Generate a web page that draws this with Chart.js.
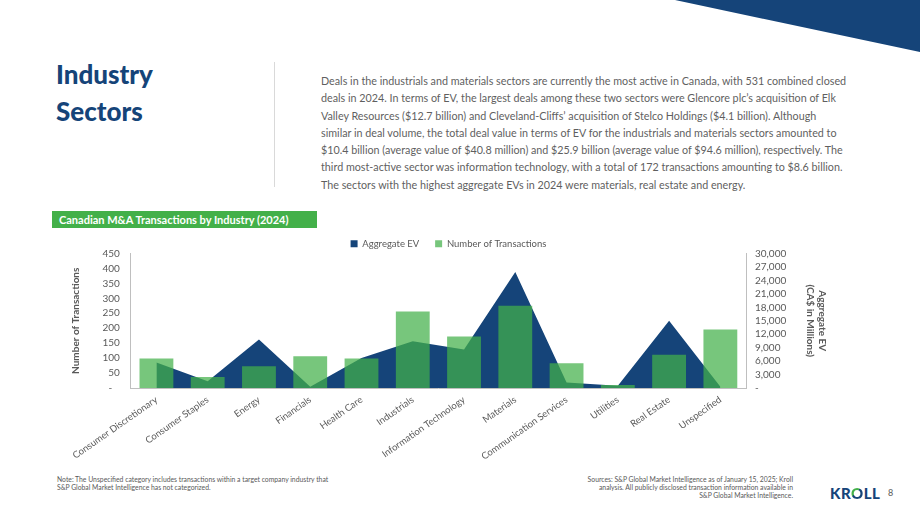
<!DOCTYPE html>
<html>
<head>
<meta charset="utf-8">
<script src="https://cdn.jsdelivr.net/npm/chart.js@4"></script>
<style>
  body { margin: 0; width: 920px; height: 517px; background: #fff; font-family: 'Lato', sans-serif; position: relative; overflow: hidden; }
  .corner { position: absolute; left: 675px; top: 0; width: 245px; height: 52px; background: #154479; clip-path: polygon(0 0, 100% 0, 100% 100%); }
  h1 { position: absolute; left: 56px; top: 56px; margin: 0; font-size: 26px; line-height: 37px; font-weight: 900; color: #154479; }
  .divider { position: absolute; left: 274px; top: 62px; width: 1px; height: 125px; background: #d9d9d9; }
  .intro { position: absolute; left: 321px; top: 72px; font-size: 10.75px; line-height: 17.3px; color: #5f5f5f; white-space: nowrap; }
  .boxtitle { position: absolute; left: 52px; top: 211px; width: 258px; height: 17px; padding-left: 7px; background: #43B049; color: #fff; font-size: 11px; font-weight: bold; line-height: 17px; }
  .chart { position: absolute; left: 65px; top: 235px; width: 767px; height: 237px; }
  .note { position: absolute; left: 57px; top: 476px; font-size: 6.8px; line-height: 7.8px; color: #595959; white-space: nowrap; }
  .sources { position: absolute; right: 127px; top: 476px; font-size: 6.8px; line-height: 7.8px; color: #595959; text-align: right; white-space: nowrap; }
  .logo { position: absolute; left: 830px; top: 484px; font-size: 15px; font-weight: 900; letter-spacing: 0.5px; color: #154479; }
  .logo span { background: linear-gradient(135deg, #43B049 45%, #154479 45%); -webkit-background-clip: text; background-clip: text; color: transparent; }
  .page { position: absolute; left: 888px; top: 487px; font-size: 9px; color: #595959; }
</style>
</head>
<body>
<div class="corner"></div>
<h1>Industry<br>Sectors</h1>
<div class="divider"></div>
<div class="intro">
Deals in the industrials and materials sectors are currently the most active in Canada, with 531 combined closed<br>
deals in 2024. In terms of EV, the largest deals among these two sectors were Glencore plc’s acquisition of Elk<br>
Valley Resources ($12.7 billion) and Cleveland-Cliffs’ acquisition of Stelco Holdings ($4.1 billion). Although<br>
similar in deal volume, the total deal value in terms of EV for the industrials and materials sectors amounted to<br>
$10.4 billion (average value of $40.8 million) and $25.9 billion (average value of $94.6 million), respectively. The<br>
third most-active sector was information technology, with a total of 172 transactions amounting to $8.6 billion.<br>
The sectors with the highest aggregate EVs in 2024 were materials, real estate and energy.
</div>
<div class="boxtitle">Canadian M&amp;A Transactions by Industry (2024)</div>
<div class="chart"><canvas id="industryChart"></canvas></div>
<div class="note">Note: The Unspecified category includes transactions within a target company industry that<br>S&amp;P Global Market Intelligence has not categorized.</div>
<div class="sources">Sources: S&amp;P Global Market Intelligence as of January 15, 2025; Kroll<br>analysis. All publicly disclosed transaction information available in<br>S&amp;P Global Market Intelligence.</div>
<div class="logo">KR<span>O</span>LL</div>
<div class="page">8</div>

<script>
// Chart data
const categories = ['Consumer Discretionary', 'Consumer Staples', 'Energy', 'Financials', 'Health Care', 'Industrials',
    'Information Technology', 'Materials', 'Communication Services', 'Utilities', 'Real Estate', 'Unspecified'];
const transactions = [99, 37, 73, 106, 99, 256, 172, 275, 83, 10, 111, 196];
const aggregateEV = [5700, 1500, 10800, 300, 6700, 10400, 8600, 25900, 1200, 500, 15000, 300];
const countTicks = [0, 450, 50];   // min, max, step
const evTicks = [0, 30000, 3000];

const navy = '#154479';
const green = 'rgba(67, 176, 73, 0.72)';
const grey = '#595959';

Chart.defaults.font.family = 'Lato';
Chart.defaults.color = grey;

// legend is a bit too tall by default, trim it so the plot starts right under it
const legendTrim = {
    id: 'legendTrim',
    beforeInit(chart) {
        const legend = chart.legend;
        if (!legend) return;
        const fit = legend.fit;
        legend.fit = function () {
            fit.call(this);
            this.height -= 5;
        };
    }
};

const ctx = document.getElementById('industryChart').getContext('2d');
new Chart(ctx, {
    data: {
        labels: categories,
        datasets: [{
            type: 'line',
            label: 'Aggregate EV',
            data: aggregateEV,
            yAxisID: 'y1',
            fill: 'origin',
            backgroundColor: navy,
            borderColor: navy,
            borderWidth: 0,
            pointRadius: 0,
            tension: 0,
            order: 2
        }, {
            type: 'bar',
            label: 'Number of Transactions',
            data: transactions,
            yAxisID: 'y',
            backgroundColor: green,
            categoryPercentage: 1,
            barPercentage: 0.66,
            order: 1
        }]
    },
    options: {
        responsive: true,
        maintainAspectRatio: false,
        animation: false,
        layout: { padding: 0 },
        scales: {
            x: {
                grid: { display: false, drawTicks: false },
                border: { color: '#bfbfbf' },
                ticks: { autoSkip: false, minRotation: 35, maxRotation: 35, padding: 6, font: { size: 9.5 }, color: grey },
                afterFit: scale => { scale.height = 84; }
            },
            y: {
                position: 'left',
                min: countTicks[0],
                max: countTicks[1],
                grid: { display: false, drawTicks: false },
                border: { color: '#bfbfbf' },
                ticks: {
                    stepSize: countTicks[2],
                    autoSkip: false,
                    padding: 11,
                    font: { size: 10 },
                    callback: v => v === 0 ? '-   ' : v
                },
                title: { display: true, text: 'Number of Transactions', font: { size: 10, weight: 'bold' }, color: grey },
                afterFit: scale => { scale.width = 65; }
            },
            y1: {
                position: 'right',
                min: evTicks[0],
                max: evTicks[1],
                grid: { display: false, drawTicks: false },
                border: { color: '#bfbfbf' },
                ticks: {
                    stepSize: evTicks[2],
                    autoSkip: false,
                    padding: 9,
                    font: { size: 10 },
                    callback: v => v === 0 ? '-' : v.toLocaleString('en-US')
                },
                title: { display: true, text: ['Aggregate EV', '(CA$ in Millions)'], font: { size: 10, weight: 'bold' }, color: grey },
                afterFit: scale => { scale.width = 86; }
            }
        },
        plugins: {
            legend: {
                position: 'top',
                labels: {
                    boxWidth: 7,
                    boxHeight: 7,
                    padding: 4,
                    font: { size: 9.5 },
                    color: grey,
                    sort: (a, b) => a.datasetIndex - b.datasetIndex,
                    generateLabels: chart => {
                        const items = Chart.defaults.plugins.legend.labels.generateLabels(chart);
                        items.forEach(item => {
                            item.lineWidth = 0;
                            if (item.datasetIndex === 0) item.text += '\u2003\u2002';
                        });
                        return items;
                    }
                }
            }
        }
    },
    plugins: [legendTrim]
});
</script>
</body>
</html>
